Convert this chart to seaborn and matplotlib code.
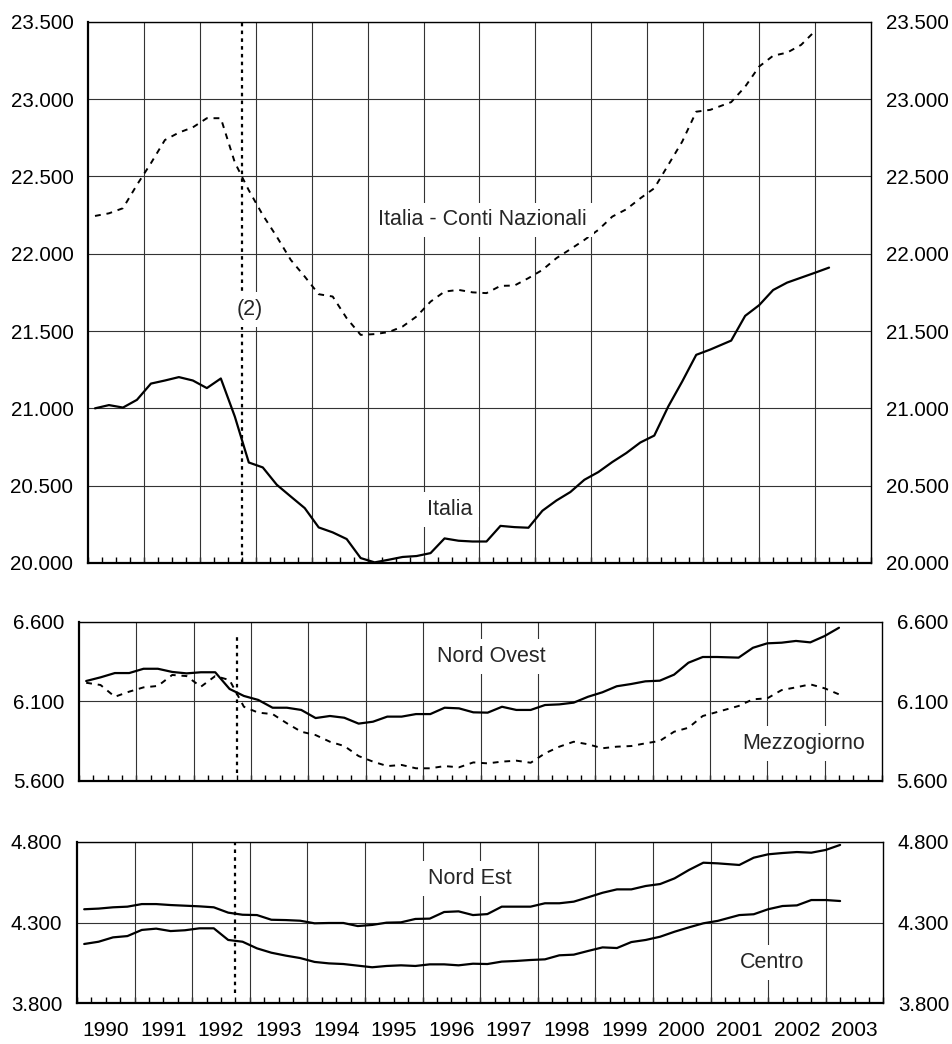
import numpy as np
import matplotlib
matplotlib.use('Agg')
import matplotlib.pyplot as plt
from matplotlib.ticker import FuncFormatter
import seaborn as sns

# Occupati (migliaia), dati trimestrali 1990 I - 2003 I
italia = [21000, 21021, 21005, 21055, 21160, 21180, 21202, 21180, 21131, 21193,
          20947, 20650, 20618, 20506, 20430, 20355, 20230, 20198, 20155, 20032,
          20004, 20021, 20039, 20045, 20064, 20159, 20144, 20139, 20139, 20240,
          20232, 20228, 20338, 20404, 20459, 20538, 20588, 20653, 20711, 20779,
          20824, 21012, 21174, 21346, 21380, 21438, 21598, 21667, 21765, 21813,
          21845, 21877, 21910]
# conti nazionali fino al 2002 IV
conti_nazionali = [22244, 22261, 22294, 22445, 22585, 22735, 22783, 22817, 22876, 22876,
                   22590, 22410, 22250, 22110, 21960, 21852, 21738, 21723, 21583, 21475,
                   21480, 21493, 21529, 21594, 21690, 21755, 21766, 21750, 21745, 21792,
                   21794, 21842, 21895, 21971, 22029, 22089, 22154, 22240, 22287, 22358,
                   22423, 22574, 22725, 22918, 22930, 22980, 23080, 23210, 23280, 23300,
                   23350, 23440]
nord_ovest = [6227, 6250, 6277, 6277, 6304, 6304, 6284, 6275, 6282, 6282,
              6177, 6133, 6108, 6059, 6059, 6045, 5994, 6007, 5996, 5959,
              5971, 6003, 6003, 6019, 6019, 6059, 6055, 6030, 6028, 6065,
              6045, 6045, 6076, 6080, 6091, 6128, 6156, 6194, 6208, 6225,
              6229, 6267, 6342, 6378, 6378, 6374, 6436, 6464, 6468, 6479,
              6470, 6510, 6562]
mezzogiorno = [6216, 6202, 6128, 6160, 6187, 6196, 6265, 6258, 6191, 6258,
               6233, 6065, 6028, 6019, 5961, 5908, 5887, 5845, 5818, 5755,
               5720, 5692, 5699, 5678, 5678, 5692, 5684, 5715, 5709, 5720,
               5726, 5713, 5772, 5814, 5845, 5829, 5804, 5814, 5818, 5835,
               5850, 5908, 5933, 6007, 6032, 6070, 6112, 6118, 6170, 6187,
               6206, 6181, 6143]
nord_est = [4382, 4386, 4394, 4398, 4414, 4414, 4408, 4404, 4400, 4394,
            4361, 4348, 4346, 4317, 4315, 4311, 4295, 4297, 4297, 4278,
            4285, 4299, 4301, 4322, 4324, 4365, 4369, 4346, 4352, 4398,
            4398, 4398, 4419, 4419, 4429, 4456, 4484, 4505, 4505, 4526,
            4538, 4573, 4625, 4670, 4666, 4656, 4701, 4722, 4730, 4736,
            4732, 4749, 4780]
centro = [4167, 4181, 4208, 4216, 4254, 4262, 4247, 4252, 4264, 4264,
          4192, 4181, 4140, 4113, 4095, 4080, 4056, 4047, 4043, 4033,
          4023, 4031, 4035, 4031, 4041, 4041, 4035, 4045, 4043, 4058,
          4062, 4068, 4072, 4097, 4101, 4124, 4146, 4142, 4179, 4192,
          4212, 4243, 4270, 4295, 4310, 4346, 4351, 4382, 4402, 4406,
          4439, 4439, 4433]

# position of each quarter on the time axis (from 2001 II the points sit on the ticks)
quarter_pos = np.arange(53) + 0.5
quarter_pos[45:] += 0.5
t = 1990 + quarter_pos / 4

years = list(range(1990, 2004))
break_year = 1992.75   # discontinuita' della serie (2)

sns.set_theme(style='white')
plt.rcParams['font.family'] = ['Liberation Sans', 'DejaVu Sans']
plt.rcParams['axes.edgecolor'] = 'black'

fig = plt.figure(figsize=(9.52, 10.44), dpi=100)
ax1 = fig.add_axes([88 / 952, 1 - 563 / 1044, 783 / 952, 541.3 / 1044])
ax2 = fig.add_axes([79 / 952, 1 - 780.7 / 1044, 803 / 952, 159 / 1044])
ax3 = fig.add_axes([77 / 952, 1 - 1003.3 / 1044, 806.3 / 952, 161.6 / 1044])

fmt = FuncFormatter(lambda v, p: f'{v:,.0f}'.replace(',', '.'))


def style_axis(ax, ymin, ymax, step, labels):
    ax.set_xlim(1990, 2004)
    ax.set_ylim(ymin, ymax)
    ax.set_yticks(np.arange(ymin, ymax + 1, step))
    ax.yaxis.set_major_formatter(fmt)
    ax.tick_params(axis='y', length=0, labelleft=True, labelright=True,
                   pad=10.5, labelsize=14.8, colors='black')
    ax.grid(axis='y', color='#333333', lw=0.8)
    for y in years[1:]:
        ax.axvline(y, color='#333333', lw=0.8, zorder=1)
    ax.set_xticks(np.array(years) + 0.5)
    ax.set_xticklabels(years if labels else [])
    ax.set_xticks(np.arange(1990, 2004.01, 0.25), minor=True)
    ax.xaxis.remove_overlapping_locs = False
    ax.tick_params(axis='x', which='major', length=0, pad=13, labelsize=15,
                   colors='black')
    ax.tick_params(axis='x', which='minor', bottom=True, direction='in',
                   length=4, width=1.0, color='black')
    for side in ['left', 'bottom']:
        ax.spines[side].set_linewidth(1.6)
    for side in ['top', 'right']:
        ax.spines[side].set_linewidth(1.0)
    ax.set_xlabel('')
    ax.set_ylabel('')


box = dict(facecolor='white', edgecolor='none', pad=5)
txt = dict(ha='center', va='center', fontsize=15.5, bbox=box, zorder=6)
solid = dict(color='black', lw=1.6, zorder=4)
dashed = dict(color='black', lw=1.4, linestyle=(0, (3, 3)), zorder=4)
dotted = dict(color='black', lw=1.6, linestyles=(0, (1.6, 1.9)), zorder=3)

# Italia
sns.lineplot(x=t, y=italia, ax=ax1, **solid)
sns.lineplot(x=t[:len(conti_nazionali)], y=conti_nazionali, ax=ax1, **dashed)
ax1.vlines(break_year, 20000, 23500, **dotted)
style_axis(ax1, 20000, 23500, 500, False)
ax1.text(1997.05, 22218, 'Italia - Conti Nazionali', **txt)
ax1.text(1996.47, 20344, 'Italia', **txt)
ax1.text(1992.9, 21637, '(2)', **txt)

# Nord Ovest e Mezzogiorno
sns.lineplot(x=t, y=nord_ovest, ax=ax2, **solid)
sns.lineplot(x=t, y=mezzogiorno, ax=ax2, **dashed)
ax2.vlines(break_year, 5650, 6506, **dotted)
style_axis(ax2, 5600, 6600, 500, False)
ax2.text(1997.18, 6380, 'Nord Ovest', **txt)
ax2.text(2002.64, 5835, 'Mezzogiorno', **txt)

# Nord Est e Centro
sns.lineplot(x=t, y=nord_est, ax=ax3, **solid)
sns.lineplot(x=t, y=centro, ax=ax3, **solid)
ax3.vlines(break_year, 3866, 4800, **dotted)
style_axis(ax3, 3800, 4800, 500, True)
ax3.text(1996.82, 4574, 'Nord Est', **txt)
ax3.text(2002.06, 4054, 'Centro', **txt)

fig.savefig('out.png', dpi=100)
